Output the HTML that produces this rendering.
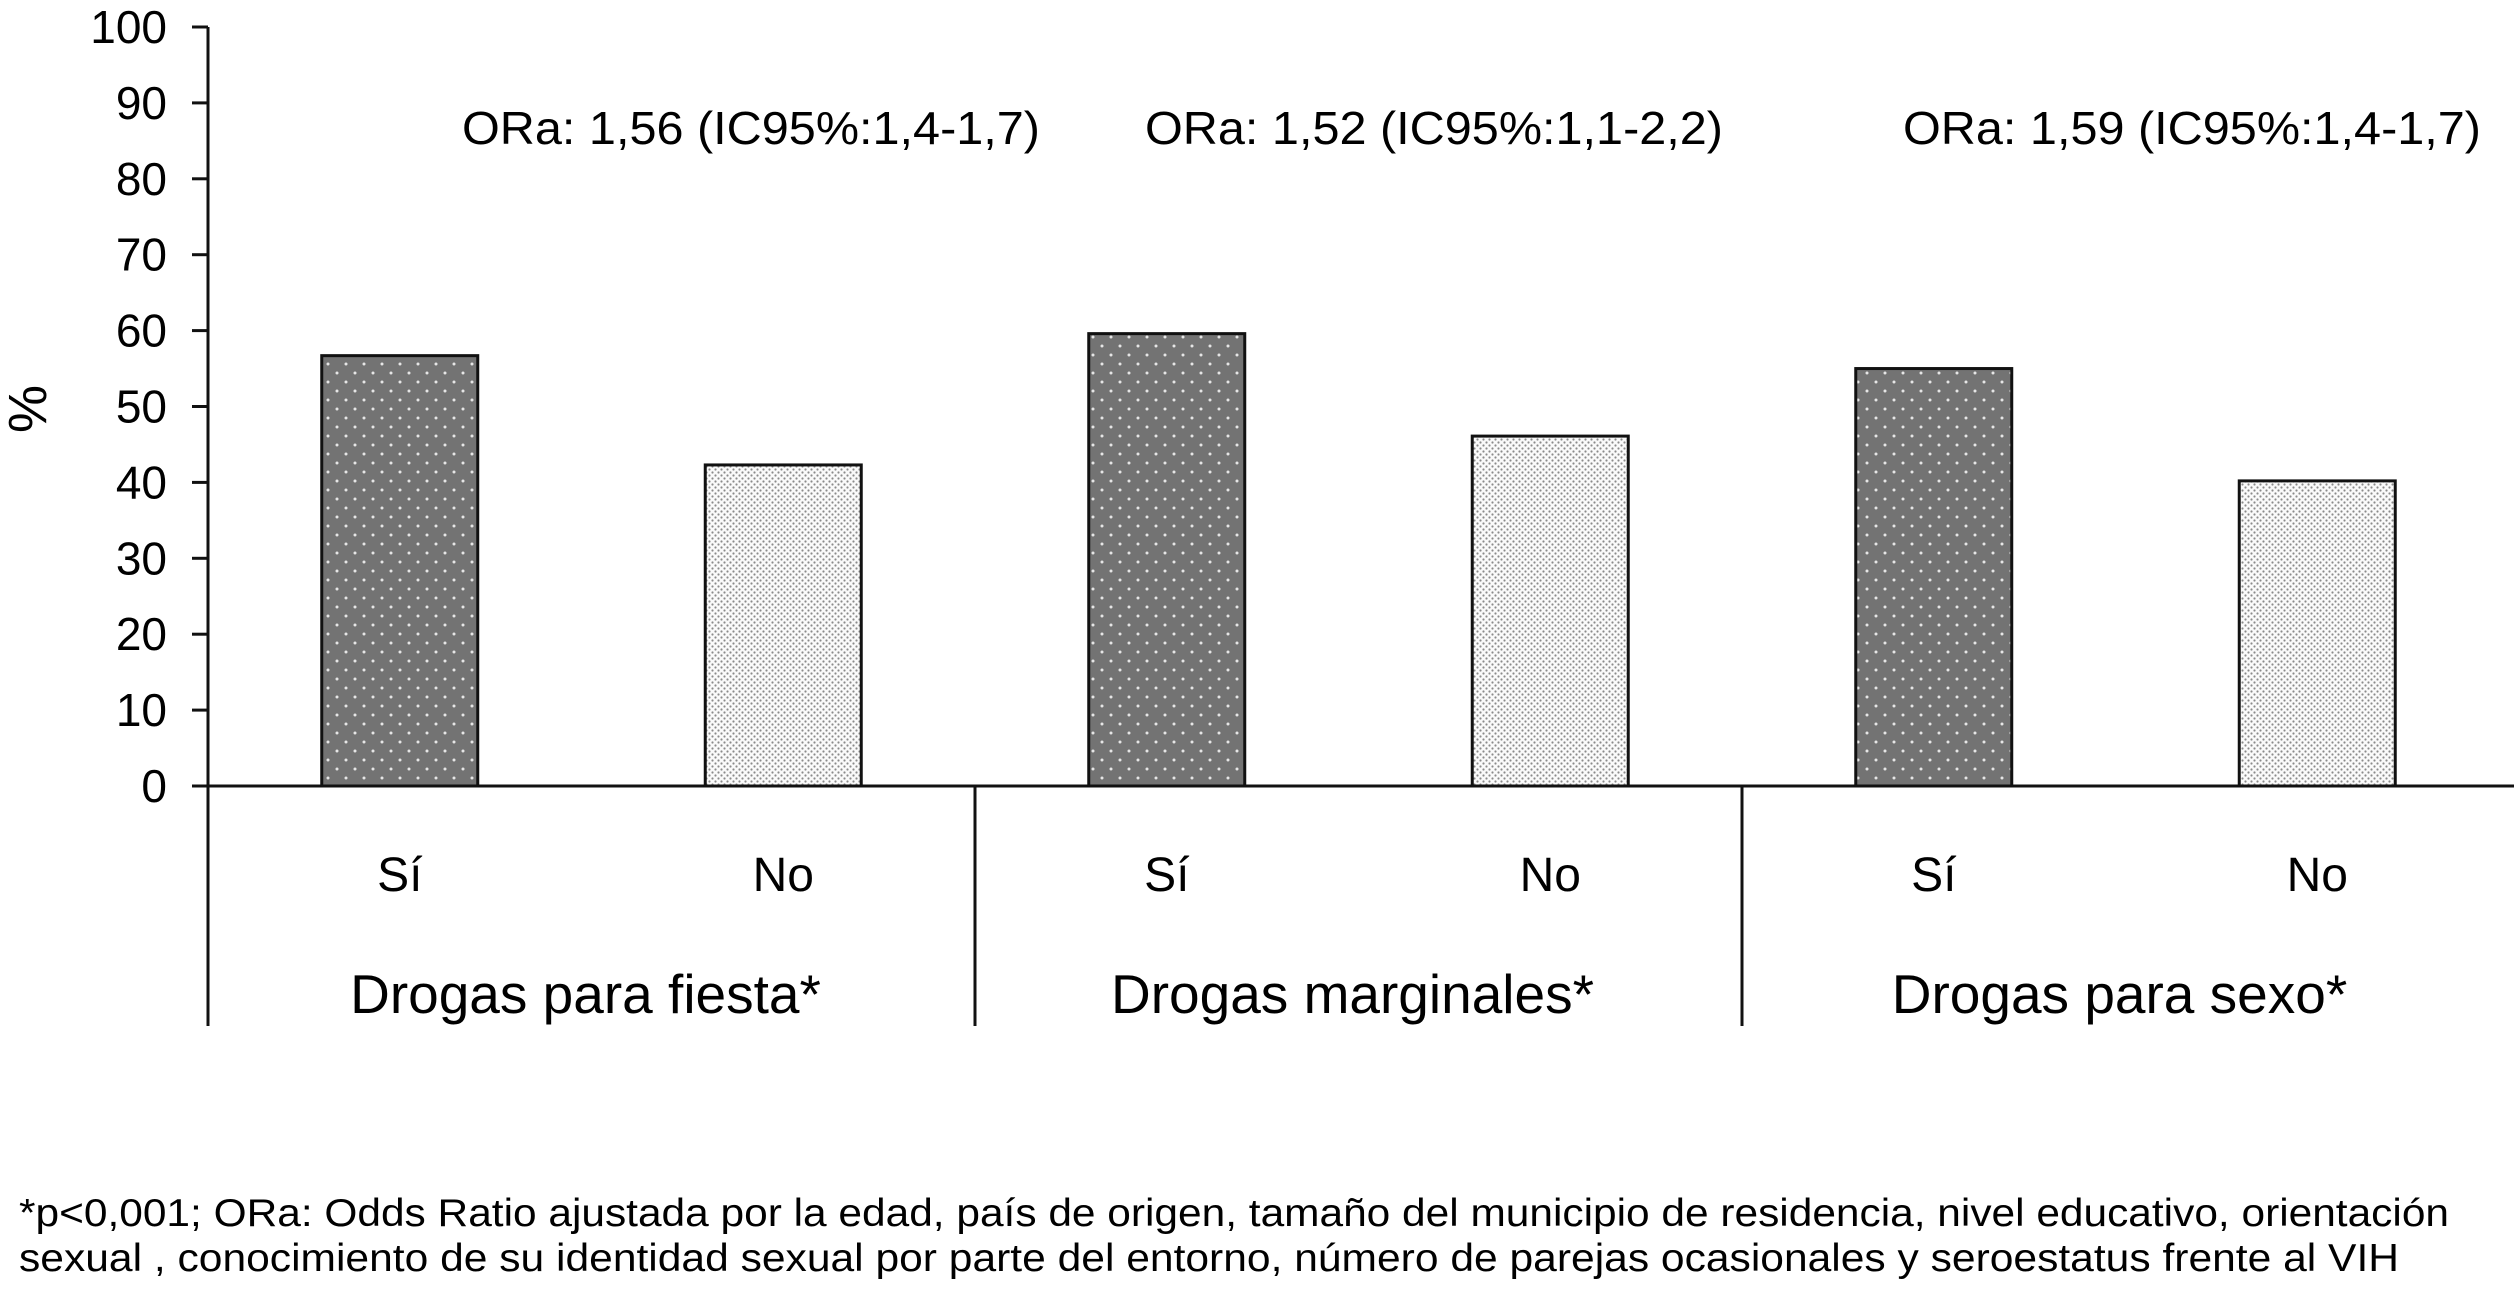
<!DOCTYPE html>
<html><head><meta charset="utf-8"><style>
html,body{margin:0;padding:0;background:#fff;}
svg{display:block;font-family:"Liberation Sans",Arial,sans-serif;}
</style></head><body>
<svg id="chart" width="2514" height="1298" viewBox="0 0 2514 1298" xmlns="http://www.w3.org/2000/svg">
<defs>
<pattern id="darkPat" width="18" height="18" patternUnits="userSpaceOnUse">
<rect width="18" height="18" fill="#737373"/>
<circle cx="4" cy="4" r="1.5" fill="#e6e6e6"/>
<circle cx="13" cy="13" r="1.5" fill="#e6e6e6"/>
</pattern>
<pattern id="lightPat" width="6" height="6" patternUnits="userSpaceOnUse">
<rect width="6" height="6" fill="#fafafa"/>
<circle cx="1.5" cy="1.5" r="1.1" fill="#8a8a8a"/>
<circle cx="4.5" cy="4.5" r="1.1" fill="#8a8a8a"/>
</pattern>
</defs>
<g id="axes"></g>
<g id="bars"></g>
<g id="labels"></g>
<text transform="translate(46,409) rotate(-90)" text-anchor="middle" font-size="54">%</text>
<text x="19" y="1226" font-size="39" textLength="2430" lengthAdjust="spacingAndGlyphs">*p&lt;0,001; ORa: Odds Ratio ajustada por la edad, país de origen, tamaño del municipio de residencia, nivel educativo, orientación</text>
<text x="19" y="1271" font-size="39" textLength="2380" lengthAdjust="spacingAndGlyphs">sexual , conocimiento de su identidad sexual por parte del entorno, número de parejas ocasionales y seroestatus frente al VIH</text>
</svg>
<script>
const groups = ["Drogas para fiesta*", "Drogas marginales*", "Drogas para sexo*"];
const subCats = ["Sí", "No"];
const siValues = [56.7, 59.6, 55.0];
const noValues = [42.3, 46.1, 40.2];
const orLabels = ["ORa: 1,56 (IC95%:1,4-1,7)", "ORa: 1,52 (IC95%:1,1-2,2)", "ORa: 1,59 (IC95%:1,4-1,7)"];
const yTicks = [0, 10, 20, 30, 40, 50, 60, 70, 80, 90, 100];

const NS = "http://www.w3.org/2000/svg";
const x0 = 208, groupW = 767, y0 = 786, yTop = 27;
function yScale(v){ return y0 - (v/100)*(y0-yTop); }
function groupX(g){ return x0 + g*groupW; }
function barCenter(g, s){ return groupX(g) + groupW*(s*2+1)/4; }
function mk(tag, attrs, parent){
  const e = document.createElementNS(NS, tag);
  for (const k in attrs) e.setAttribute(k, attrs[k]);
  parent.appendChild(e); return e;
}
const axes = document.getElementById('axes');
const bars = document.getElementById('bars');
const labels = document.getElementById('labels');

let yl = mk('line', {x1:x0, y1:yTop, x2:x0, y2:1026, stroke:'#111', 'stroke-width':3}, axes);


let xl = mk('line', {x1:192, y1:y0, x2:2514, y2:y0, stroke:'#111', 'stroke-width':3}, axes);



yTicks.forEach(t => {
  const y = yScale(t);
  const tk = mk('line', {x1:192, y1:y, x2:x0, y2:y, stroke:'#111', 'stroke-width':3}, axes);
  
  
  const tl = mk('text', {x:167, y:y+16, 'text-anchor':'end', 'font-size':46}, axes);
  tl.textContent = t;
  
  
});

groups.forEach((g, i) => {
  if (i > 0) {
    const d = mk('line', {x1:groupX(i), y1:y0, x2:groupX(i), y2:1026, stroke:'#111', 'stroke-width':3}, axes);
    
    
  }
  [siValues[i], noValues[i]].forEach((v, s) => {
    const bw = 156, cx = barCenter(i, s);
    const r = mk('rect', {x:cx-bw/2, y:yScale(v), width:bw, height:y0-yScale(v),
      fill: s===0 ? 'url(#darkPat)' : 'url(#lightPat)', stroke:'#111', 'stroke-width':3}, bars);
    
    
    const sl = mk('text', {x:cx, y:891, 'text-anchor':'middle', 'font-size':48}, labels);
    sl.textContent = subCats[s];
    
    
  });
  const gl = mk('text', {x:groupX(i)+groupW/2-6, y:1013, 'text-anchor':'middle', 'font-size':55}, labels);
  gl.textContent = g;
  
  
  const ol = mk('text', {x:[462,1145,1903][i], y:144, 'font-size':46, textLength:578, lengthAdjust:'spacingAndGlyphs'}, labels);
  ol.textContent = orLabels[i];
  
  
});
</script>
</body></html>
